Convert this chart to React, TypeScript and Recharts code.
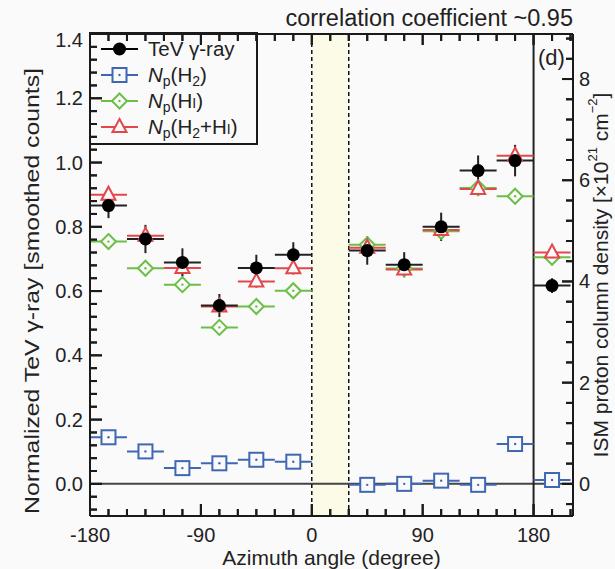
import React from 'react';
import { ScatterChart, Scatter, XAxis, YAxis, ErrorBar, ReferenceLine, ReferenceArea, Label } from 'recharts';

// ---------------- data ----------------
const azimuthBins = [-165, -135, -105, -75, -45, -15, 45, 75, 105, 135, 165, 195];
const binHalfWidth = [15, 15, 15, 15, 15, 15, 15, 15, 15, 15, 15, 15];

const tevGamma = [0.866, 0.762, 0.689, 0.555, 0.672, 0.713, 0.726, 0.682, 0.8, 0.975, 1.006, 0.617];
const tevGammaErr = [0.039, 0.044, 0.044, 0.036, 0.041, 0.039, 0.044, 0.039, 0.044, 0.047, 0.049, 0.023];

const npH2 = [0.145, 0.101, 0.049, 0.064, 0.075, 0.069, -0.003, 0.0, 0.01, -0.003, 0.124, 0.012];
const npH2Err = [0.004, 0.004, 0.004, 0.004, 0.004, 0.004, 0.004, 0.004, 0.004, 0.004, 0.004, 0.004];

const npHI = [0.754, 0.671, 0.62, 0.487, 0.552, 0.601, 0.744, 0.67, 0.786, 0.921, 0.895, 0.705];
const npHIErr = [0.01, 0.01, 0.01, 0.01, 0.01, 0.01, 0.01, 0.01, 0.01, 0.01, 0.01, 0.01];

const npH2HI = [0.9, 0.772, 0.672, 0.552, 0.63, 0.671, 0.735, 0.667, 0.79, 0.918, 1.021, 0.72];
const npH2HIErr = [0.02, 0.02, 0.02, 0.02, 0.02, 0.02, 0.02, 0.02, 0.02, 0.02, 0.02, 0.02];

const xMajorTicks = [-180, -90, 0, 90, 180];
const xTickLabels = ['-180', '-90', '0', '90', '180'];
const leftMajorTicks = [0, 0.2, 0.4, 0.6, 0.8, 1.0, 1.2, 1.4];
const leftTickLabels = ['0.0', '0.2', '0.4', '0.6', '0.8', '1.0', '1.2', '1.4'];
const rightMajorTicks = [0, 2, 4, 6, 8];
const rightTickLabels = ['0', '2', '4', '6', '8'];

const xDomain = [-180, 212];
const leftDomain = [-0.1, 1.4];
const rightDomain = [-0.635, 8.89];
const shadedRange = [0, 30];
const boundaryAngle = 180;

const titleText = 'correlation coefficient ~0.95';
const panelTag = '(d)';
const xTitle = 'Azimuth angle (degree)';
const yTitle = 'Normalized TeV \u03b3-ray [smoothed counts]';

// ---------------- styling ----------------
const FONT = '"Liberation Sans", Arial, Helvetica, sans-serif';
const INK = '#222';
const FRAME = '#1a1a1a';
const BLUE = '#3f67b4';
const GREEN = '#6cbf46';
const RED = '#e3464b';
const BG = '#fafafa';
const BAND = '#fbfbe7';

const W = 615;
const H = 569;
const TOP = 33;
const LEFT_W = 90;
const RIGHT_W = 42;
const BOTTOM_H = 53;
const PLOT_W = W - LEFT_W - RIGHT_W;
const PLOT_H = H - TOP - BOTTOM_H;

const range = (start: number, stop: number, step: number, digits: number) => {
  const out: number[] = [];
  for (let k = 0; start + k * step <= stop + 1e-9; k++) out.push(+(start + k * step).toFixed(digits));
  return out;
};
const xTicks = range(-180, 210, 15, 0);
const leftTicks = range(-0.08, 1.4, 0.04, 2);
const rightTicks = range(-0.4, 8.8, 0.4, 1);

const isMajor = (v: number, majors: number[]) => majors.some((m) => Math.abs(m - v) < 1e-6);
const findLabel = (v: number, majors: number[], labels: string[]) => {
  const i = majors.findIndex((m) => Math.abs(m - v) < 1e-6);
  return i >= 0 ? labels[i] : '';
};

// tick-mark lengths expressed in axis units (inward ticks, IDL style)
const xPerPx = (xDomain[1] - xDomain[0]) / PLOT_W;
const yPerPx = (leftDomain[1] - leftDomain[0]) / PLOT_H;

const build = (ys: number[], errs: number[]) =>
  azimuthBins.map((x, i) => ({ x, y: ys[i], ex: binHalfWidth[i], ey: errs[i] }));

const tevData = build(tevGamma, tevGammaErr);
const h2Data = build(npH2, npH2Err);
const hiData = build(npHI, npHIErr);
const h2hiData = build(npH2HI, npH2HIErr);

// ---------------- markers ----------------
const drawCircle = (cx: number, cy: number) => <circle cx={cx} cy={cy} r={6.5} fill="#000" />;
const drawSquare = (cx: number, cy: number) => (
  <g>
    <rect x={cx - 7} y={cy - 7} width={14} height={14} fill={BG} stroke={BLUE} strokeWidth={2} />
    <circle cx={cx} cy={cy} r={1.2} fill={BLUE} />
  </g>
);
const drawDiamond = (cx: number, cy: number) => (
  <g>
    <polygon
      points={`${cx},${cy - 7.5} ${cx + 7.5},${cy} ${cx},${cy + 7.5} ${cx - 7.5},${cy}`}
      fill={BG}
      stroke={GREEN}
      strokeWidth={2}
    />
    <circle cx={cx} cy={cy} r={1.2} fill={GREEN} />
  </g>
);
const drawTriangle = (cx: number, cy: number) => (
  <polygon
    points={`${cx},${cy - 8} ${cx + 7},${cy + 5} ${cx - 7},${cy + 5}`}
    fill={BG}
    stroke={RED}
    strokeWidth={2}
  />
);

const shapeOf = (fn: (cx: number, cy: number) => React.ReactElement) => (p: any) => fn(p.cx, p.cy);

// ---------------- ticks (inward marks + labels) ----------------
const BottomTick = (p: any) => {
  const lab = findLabel(p.payload.value, xMajorTicks, xTickLabels);
  const len = lab ? 12 : 7;
  return (
    <g>
      <line x1={p.x} x2={p.x} y1={p.y} y2={p.y - len} stroke={FRAME} strokeWidth={2} />
      <text x={p.x} y={p.y + 26} textAnchor="middle" fontSize={20} fontFamily={FONT} fill={INK}>
        {lab}
      </text>
    </g>
  );
};
const TopTick = (p: any) => {
  const len = isMajor(p.payload.value, xMajorTicks) ? 11 : 7;
  return <line x1={p.x} x2={p.x} y1={p.y} y2={p.y + len} stroke={FRAME} strokeWidth={2} />;
};
const LeftTick = (p: any) => {
  const lab = findLabel(p.payload.value, leftMajorTicks, leftTickLabels);
  const len = lab ? 12 : 7;
  const ly = Math.max(p.y, TOP + 7);
  return (
    <g>
      <line x1={p.x} x2={p.x + len} y1={p.y} y2={p.y} stroke={FRAME} strokeWidth={2} />
      <text x={p.x - 7} y={ly + 7} textAnchor="end" fontSize={20} fontFamily={FONT} fill={INK}>
        {lab}
      </text>
    </g>
  );
};
const RightTick = (p: any) => {
  const lab = findLabel(p.payload.value, rightMajorTicks, rightTickLabels);
  const len = lab ? 11 : 7;
  return (
    <g>
      <line x1={p.x} x2={p.x - len} y1={p.y} y2={p.y} stroke={FRAME} strokeWidth={2} />
      <text x={p.x + 6} y={p.y + 7} textAnchor="start" fontSize={20} fontFamily={FONT} fill={INK}>
        {lab}
      </text>
    </g>
  );
};

// ---------------- titles ----------------
const XTitle = (props: any) => {
  const vb = props.viewBox || { x: LEFT_W, y: H - BOTTOM_H, width: PLOT_W, height: BOTTOM_H };
  return (
    <text x={vb.x + vb.width / 2} y={vb.y + 49} textAnchor="middle" fontSize={21} fontFamily={FONT} fill={INK}>
      {xTitle}
    </text>
  );
};
const LeftTitle = () => {
  const cx = 31;
  const cy = 291;
  return (
    <text
      x={cx}
      y={cy}
      transform={`rotate(-90 ${cx} ${cy})`}
      textAnchor="middle"
      dominantBaseline="central"
      fontSize={21}
      fontFamily={FONT}
      fill={INK}
      textLength={446}
      lengthAdjust="spacingAndGlyphs"
    >
      {yTitle}
    </text>
  );
};
const RightTitle = () => {
  const cx = 600;
  const cy = 275;
  return (
    <text
      x={cx}
      y={cy}
      transform={`rotate(-90 ${cx} ${cy})`}
      textAnchor="middle"
      dominantBaseline="central"
      fontSize={21}
      fontFamily={FONT}
      fill={INK}
    >
      ISM proton column density [{'\u00d7'}10
      <tspan dy={-8} fontSize={13}>
        21
      </tspan>
      <tspan dy={8}> cm</tspan>
      <tspan dy={-8} fontSize={13}>
        {'\u2212'}2
      </tspan>
      <tspan dy={8}>]</tspan>
    </text>
  );
};

// ---------------- legend ----------------
const legendRows = [
  { draw: drawCircle, color: '#000', kind: 'tev' },
  { draw: drawSquare, color: BLUE, kind: 'h2' },
  { draw: drawDiamond, color: GREEN, kind: 'hi' },
  { draw: drawTriangle, color: RED, kind: 'h2hi' },
];

const legendLabel = (kind: string) => {
  if (kind === 'tev') return <tspan>TeV {'\u03b3'}-ray</tspan>;
  const np = [
    <tspan key="n" fontStyle="italic">N</tspan>,
    <tspan key="p" fontSize={14} dy={4}>p</tspan>,
    <tspan key="o" dy={-4}>(H</tspan>,
  ];
  if (kind === 'h2')
    return [...np, <tspan key="2" fontSize={14} dy={4}>2</tspan>, <tspan key="c" dy={-4}>)</tspan>];
  if (kind === 'hi') return [...np, <tspan key="i" fontSize={14}>I</tspan>, <tspan key="c">)</tspan>];
  return [
    ...np,
    <tspan key="2" fontSize={14} dy={4}>2</tspan>,
    <tspan key="pl" dy={-4}>+H</tspan>,
    <tspan key="i" fontSize={14}>I</tspan>,
    <tspan key="c">)</tspan>,
  ];
};

const Overlay = () => (
  <svg width={W} height={H} style={{ position: 'absolute', left: 0, top: 0, pointerEvents: 'none' }}>
    <text x={573} y={26} textAnchor="end" fontSize={23.5} fontFamily={FONT} fill={INK}>
      {titleText}
    </text>
    <text x={538} y={65} fontSize={22} fontFamily={FONT} fill={INK}>
      {panelTag}
    </text>
    <rect x={LEFT_W} y={TOP} width={167} height={111} fill={BG} stroke={FRAME} strokeWidth={2} />
    {legendRows.map((r, i) => {
      const cy = 49 + i * 26;
      return (
        <g key={r.kind}>
          <line x1={101} x2={138} y1={cy} y2={cy} stroke={r.color} strokeWidth={2} />
          {r.draw(119.5, cy)}
          <text x={148} y={cy + 7} fontSize={20.5} fontFamily={FONT} fill={INK}>
            {legendLabel(r.kind)}
          </text>
        </g>
      );
    })}
  </svg>
);

const tickStroke = { stroke: FRAME, strokeWidth: 2, ifOverflow: 'visible' as const };

export default function App() {
  return (
    <div style={{ position: 'absolute', left: 0, top: 0, width: W, height: H, background: BG }}>
      <Overlay />
      <div style={{ position: 'absolute', left: 0, top: 0 }}>
        <ScatterChart width={W} height={H} margin={{ top: TOP, right: 0, bottom: 0, left: 0 }}>
          <ReferenceArea
            xAxisId="x"
            yAxisId="left"
            x1={shadedRange[0]}
            x2={shadedRange[1]}
            fill={BAND}
            fillOpacity={1}
            stroke="none"
            ifOverflow="hidden"
          />
          <ReferenceLine xAxisId="x" yAxisId="left" y={0} stroke="#444" strokeWidth={2} />
          <ReferenceLine xAxisId="x" yAxisId="left" x={shadedRange[0]} stroke="#111" strokeWidth={1.5} strokeDasharray="4 3" />
          <ReferenceLine xAxisId="x" yAxisId="left" x={shadedRange[1]} stroke="#111" strokeWidth={1.5} strokeDasharray="4 3" />
          <ReferenceLine xAxisId="x" yAxisId="left" x={boundaryAngle} stroke="#222" strokeWidth={2} />

          {xTicks.map((t) => {
            const len = (isMajor(t, xMajorTicks) ? 12 : 7) * yPerPx;
            return (
              <ReferenceLine
                key={`b${t}`}
                xAxisId="x"
                yAxisId="left"
                segment={[{ x: t, y: leftDomain[0] }, { x: t, y: leftDomain[0] + len }]}
                {...tickStroke}
              />
            );
          })}
          {xTicks.map((t) => {
            const len = (isMajor(t, xMajorTicks) ? 11 : 7) * yPerPx;
            return (
              <ReferenceLine
                key={`t${t}`}
                xAxisId="x"
                yAxisId="left"
                segment={[{ x: t, y: leftDomain[1] }, { x: t, y: leftDomain[1] - len }]}
                {...tickStroke}
              />
            );
          })}
          {leftTicks.map((t) => {
            const len = (isMajor(t, leftMajorTicks) ? 12 : 7) * xPerPx;
            return (
              <ReferenceLine
                key={`l${t}`}
                xAxisId="x"
                yAxisId="left"
                segment={[{ x: xDomain[0], y: t }, { x: xDomain[0] + len, y: t }]}
                {...tickStroke}
              />
            );
          })}
          {rightTicks.map((t) => {
            const len = (isMajor(t, rightMajorTicks) ? 11 : 7) * xPerPx;
            return (
              <ReferenceLine
                key={`r${t}`}
                xAxisId="x"
                yAxisId="right"
                segment={[{ x: xDomain[1] - len, y: t }, { x: xDomain[1], y: t }]}
                {...tickStroke}
              />
            );
          })}

          <Scatter name="Np(H2)" data={h2Data} xAxisId="x" yAxisId="left" shape={shapeOf(drawSquare)} isAnimationActive={false}>
            <ErrorBar dataKey="ex" direction="x" width={0} stroke={BLUE} strokeWidth={2} />
            <ErrorBar dataKey="ey" direction="y" width={0} stroke={BLUE} strokeWidth={2} />
          </Scatter>
          <Scatter name="Np(HI)" data={hiData} xAxisId="x" yAxisId="left" shape={shapeOf(drawDiamond)} isAnimationActive={false}>
            <ErrorBar dataKey="ex" direction="x" width={0} stroke={GREEN} strokeWidth={2} />
            <ErrorBar dataKey="ey" direction="y" width={0} stroke={GREEN} strokeWidth={2} />
          </Scatter>
          <Scatter name="Np(H2+HI)" data={h2hiData} xAxisId="x" yAxisId="left" shape={shapeOf(drawTriangle)} isAnimationActive={false}>
            <ErrorBar dataKey="ex" direction="x" width={0} stroke={RED} strokeWidth={2} />
            <ErrorBar dataKey="ey" direction="y" width={0} stroke={RED} strokeWidth={2} />
          </Scatter>
          <Scatter name="TeV gamma-ray" data={tevData} xAxisId="x" yAxisId="left" shape={shapeOf(drawCircle)} isAnimationActive={false}>
            <ErrorBar dataKey="ex" direction="x" width={0} stroke="#222" strokeWidth={2} />
            <ErrorBar dataKey="ey" direction="y" width={0} stroke="#222" strokeWidth={2} />
          </Scatter>

          <XAxis
            xAxisId="x"
            type="number"
            dataKey="x"
            domain={xDomain}
            allowDataOverflow
            ticks={xTicks}
            interval={0}
            height={BOTTOM_H}
            tickSize={0}
            tickMargin={0}
            tickLine={false}
            tick={<BottomTick />}
            axisLine={{ stroke: FRAME, strokeWidth: 2 }}
          >
            <Label content={<XTitle />} />
          </XAxis>
          <XAxis
            xAxisId="top"
            orientation="top"
            type="number"
            dataKey="x"
            domain={xDomain}
            allowDataOverflow
            ticks={xTicks}
            interval={0}
            height={1}
            tickSize={0}
            tickMargin={0}
            tickLine={false}
            tick={<TopTick />}
            axisLine={{ stroke: FRAME, strokeWidth: 2 }}
          />
          <YAxis
            yAxisId="left"
            type="number"
            dataKey="y"
            domain={leftDomain}
            allowDataOverflow
            ticks={leftTicks}
            interval={0}
            width={LEFT_W}
            tickSize={0}
            tickMargin={0}
            tickLine={false}
            tick={<LeftTick />}
            axisLine={{ stroke: FRAME, strokeWidth: 2 }}
          >
            <Label content={<LeftTitle />} />
          </YAxis>
          <YAxis
            yAxisId="right"
            orientation="right"
            type="number"
            domain={rightDomain}
            allowDataOverflow
            ticks={rightTicks}
            interval={0}
            width={RIGHT_W}
            tickSize={0}
            tickMargin={0}
            tickLine={false}
            tick={<RightTick />}
            axisLine={{ stroke: FRAME, strokeWidth: 2 }}
          >
            <Label content={<RightTitle />} />
          </YAxis>
        </ScatterChart>
      </div>
    </div>
  );
}
